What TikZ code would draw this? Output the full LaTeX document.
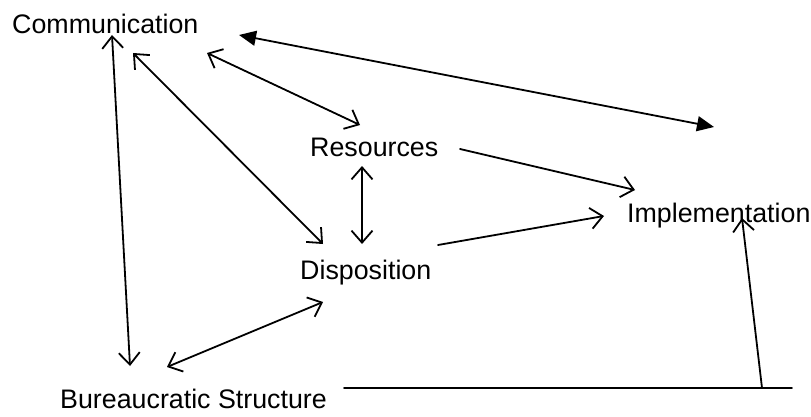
\documentclass[tikz,border=0pt]{standalone}
\usepackage{fontspec}
\setmainfont{Liberation Sans}
\usetikzlibrary{arrows.meta}
\begin{document}
\begin{tikzpicture}[x=1pt,y=-1pt,
  lbl/.style={inner sep=0pt,anchor=base west,font=\fontsize{26.8}{31}\selectfont},
  conn/.style={line width=1.8pt,line cap=round},
  oh/.style={conn,{Straight Barb[length=12pt,width=21pt,line width=1.8pt]}-{Straight Barb[length=12pt,width=21pt,line width=1.8pt]}},
  oe/.style={conn,-{Straight Barb[length=12pt,width=21pt,line width=1.8pt]}},
  fh/.style={conn,{Triangle[length=17pt,width=15pt]}-{Triangle[length=17pt,width=15pt]}}]
\useasboundingbox (0,0) rectangle (811,417);
\node[lbl] (comm) at (12,34) {Communication};
\node[lbl] (res) at (310,157) {Resources};
\node[lbl] (disp) at (300,279) {Disposition};
\node[lbl] (impl) at (627,222) {Implementation};
\node[lbl] (bur) at (60,408) {Bureaucratic Structure};
% endpoints
\coordinate (a1) at (112,35);  \coordinate (a2) at (130,366);
\coordinate (b1) at (133,53);  \coordinate (b2) at (323,244);
\coordinate (c1) at (207,53);  \coordinate (c2) at (360,125);
\coordinate (d1) at (239,35);  \coordinate (d2) at (714,127);
\coordinate (e1) at (362,166); \coordinate (e2) at (362,244);
\coordinate (f1) at (460,149); \coordinate (f2) at (635,190);
\coordinate (g1) at (438,245); \coordinate (g2) at (604,216);
\coordinate (h1) at (167,367); \coordinate (h2) at (323,302);
\coordinate (i1) at (344,388); \coordinate (i2) at (792,388);
\coordinate (j1) at (762,388); \coordinate (j2) at (742,218);
\draw[oh] (a1) -- (a2);
\draw[oh] (b1) -- (b2);
\draw[oh] (c1) -- (c2);
\draw[fh] (d1) -- (d2);
\draw[oh] (e1) -- (e2);
\draw[oe] (f1) -- (f2);
\draw[oe] (g1) -- (g2);
\draw[oh] (h1) -- (h2);
\draw[conn] (i1) -- (i2);
\draw[oe] (j1) -- (j2);
\end{tikzpicture}
\end{document}
